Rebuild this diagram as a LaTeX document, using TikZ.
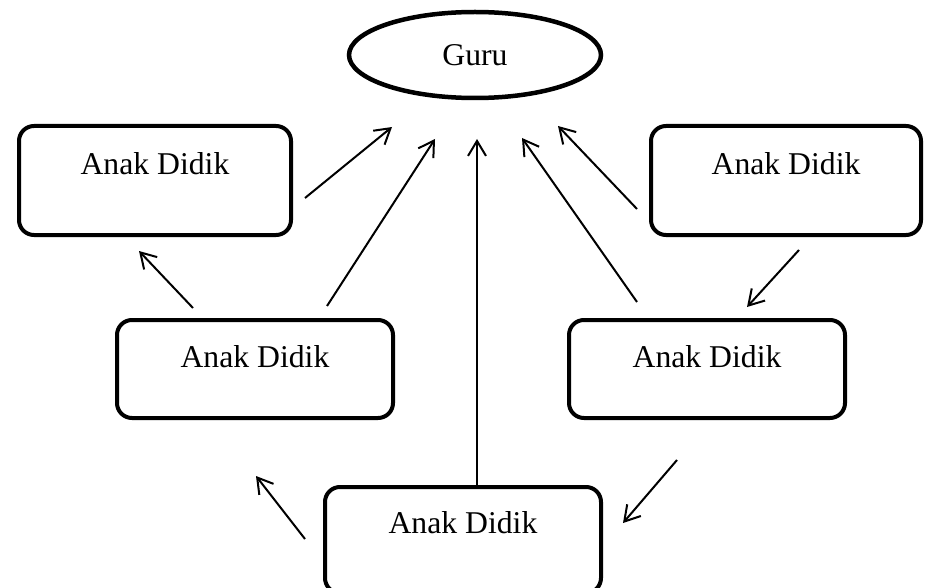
\documentclass[tikz,border=0pt]{standalone}
\usepackage{fontspec}
\setmainfont{Liberation Serif}
\usetikzlibrary{shapes.geometric,arrows.meta}
\begin{document}
\begin{tikzpicture}[x=1pt,y=-1pt,
  pupil/.style={draw, line width=4pt, rounded corners=15pt, inner sep=0pt,
    font=\fontsize{31.7}{38}\selectfont, anchor=base},
  teacher/.style={draw, ellipse, line width=4.5pt, inner sep=0pt,
    minimum width=252pt, minimum height=86pt, font=\fontsize{31.7}{38}\selectfont},
  flow/.style={line width=2pt, -{Straight Barb[length=15pt,width=18pt]}}]
\clip (0,0) rectangle (925,588);

% teacher
\node[teacher] (g) at (475,55) {Guru};

% pupils
\node[pupil, minimum width=272pt, text height=49pt, text depth=60pt] (tl) at (155,175) {Anak Didik};
\node[pupil, minimum width=270pt, text height=49pt, text depth=60pt] (tr) at (786,175) {Anak Didik};
\node[pupil, minimum width=276pt, text height=47pt, text depth=51pt] (ml) at (255,367) {Anak Didik};
\node[pupil, minimum width=276pt, text height=47pt, text depth=51pt] (mr) at (707,367) {Anak Didik};
\node[pupil, minimum width=276pt, text height=46pt, text depth=60pt] (bt) at (463,533) {Anak Didik};

% arrow ends
\coordinate (p1) at (305,198); \coordinate (q1) at (392,127);
\coordinate (p2) at (327,306); \coordinate (q2) at (435,139);
\coordinate (q3) at (477,139);
\coordinate (p4) at (637,302); \coordinate (q4) at (522,138);
\coordinate (p5) at (637,209); \coordinate (q5) at (558,126);
\coordinate (p6) at (799,250); \coordinate (q6) at (747,307);
\coordinate (p7) at (677,460); \coordinate (q7) at (623,523);
\coordinate (p8) at (305,539); \coordinate (q8) at (256,476);
\coordinate (p9) at (193,308); \coordinate (q9) at (139,251);

% arrows towards the teacher
\draw[flow] (p1) -- (q1);
\draw[flow] (p2) -- (q2);
\draw[flow] (bt.north -| q3) -- (q3);
\draw[flow] (p4) -- (q4);
\draw[flow] (p5) -- (q5);

% arrows between pupils
\draw[flow] (p6) -- (q6);
\draw[flow] (p7) -- (q7);
\draw[flow] (p8) -- (q8);
\draw[flow] (p9) -- (q9);
\end{tikzpicture}
\end{document}
